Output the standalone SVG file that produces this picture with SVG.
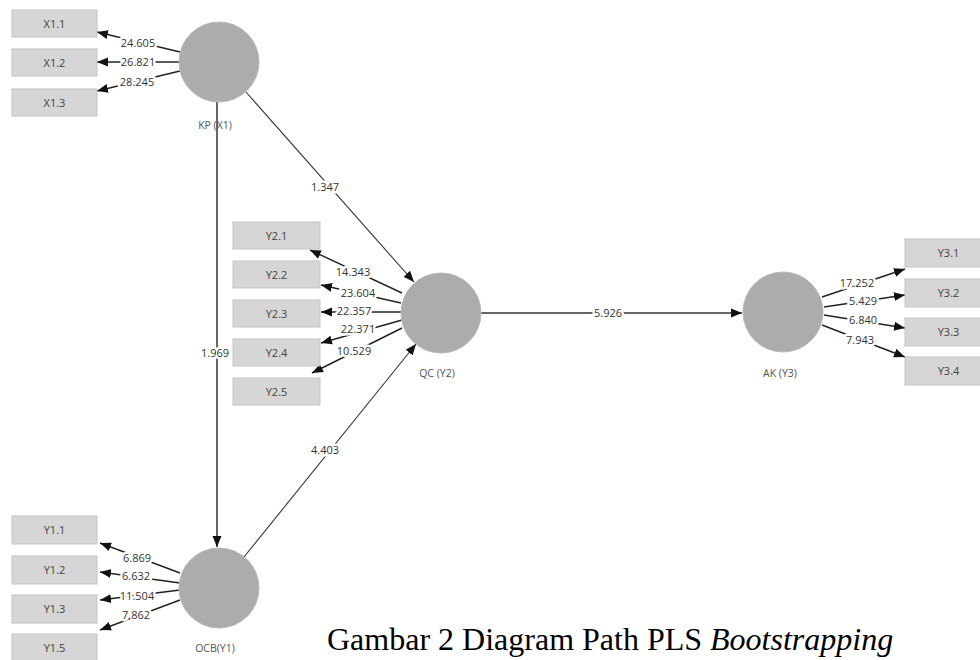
<svg xmlns="http://www.w3.org/2000/svg" width="980" height="660" viewBox="0 0 980 660">
<defs>
<marker id="ah" markerUnits="userSpaceOnUse" markerWidth="12" markerHeight="12" viewBox="0 0 12 12" refX="11" refY="6" orient="auto">
<path d="M0,1.5 L11,6 L0,10.5 Z" fill="#111"/>
</marker>
<style>
.box{fill:#d6d6d6;stroke:#c4c4c4;stroke-width:1}
.bt{font-family:"Open Sans","Noto Sans",sans-serif;font-size:11px;fill:#444;text-anchor:middle}
.lv{fill:#acacac;stroke:#b8b8b8;stroke-width:1}
.lt{font-family:"Open Sans","Noto Sans",sans-serif;font-size:10.5px;fill:#555;text-anchor:middle}
.ld{stroke:#222;stroke-width:1.4;fill:none;marker-end:url(#ah)}
.pt{stroke:#333;stroke-width:1.1;fill:none;marker-end:url(#ah)}
.pg{stroke:#666;stroke-width:2;fill:none;marker-end:url(#ah)}
.nl{font-family:"Open Sans","Noto Sans",sans-serif;font-size:11px;fill:#333;text-anchor:middle;stroke:#fff;stroke-width:5;paint-order:stroke;stroke-linejoin:round}
.cap{font-family:"Liberation Serif","Times New Roman",serif;font-size:32px;fill:#000}
</style>
</defs>
<rect width="980" height="660" fill="#fff"/>

<g id="connectors">
<line class="pt" x1="246" y1="92" x2="414" y2="282"/>
<line class="pg" x1="217" y1="102" x2="217" y2="547"/>
<line class="pt" x1="244" y1="557" x2="416" y2="344"/>
<line class="pg" x1="481" y1="313" x2="742" y2="313"/>
<line class="ld" x1="180" y1="52" x2="97" y2="32"/>
<line class="ld" x1="180" y1="62" x2="97" y2="62"/>
<line class="ld" x1="180" y1="71" x2="97" y2="91"/>
<line class="ld" x1="402" y1="293" x2="310" y2="250"/>
<line class="ld" x1="401" y1="303" x2="321" y2="285"/>
<line class="ld" x1="401" y1="312" x2="321" y2="312"/>
<line class="ld" x1="402" y1="320" x2="321" y2="343"/>
<line class="ld" x1="402" y1="328" x2="312" y2="373"/>
<line class="ld" x1="180" y1="573" x2="100" y2="543"/>
<line class="ld" x1="180" y1="583" x2="100" y2="572"/>
<line class="ld" x1="180" y1="590" x2="100" y2="600"/>
<line class="ld" x1="180" y1="600" x2="100" y2="630"/>
<line class="ld" x1="822" y1="297" x2="905" y2="269"/>
<line class="ld" x1="824" y1="307" x2="905" y2="295"/>
<line class="ld" x1="824" y1="315" x2="905" y2="328"/>
<line class="ld" x1="822" y1="325" x2="905" y2="357"/>
<text class="nl" x="325" y="191">1.347</text>
<text class="nl" x="215" y="357">1.969</text>
<text class="nl" x="325" y="454">4.403</text>
<text class="nl" x="608" y="317">5.926</text>
<text class="nl" x="138" y="47">24.605</text>
<text class="nl" x="138" y="66">26.821</text>
<text class="nl" x="137" y="86">28.245</text>
<text class="nl" x="353" y="276">14.343</text>
<text class="nl" x="358" y="297">23.604</text>
<text class="nl" x="354" y="315">22.357</text>
<text class="nl" x="358" y="333">22.371</text>
<text class="nl" x="354" y="355">10.529</text>
<text class="nl" x="137" y="562">6.869</text>
<text class="nl" x="136" y="580">6.632</text>
<text class="nl" x="137" y="600">11.504</text>
<text class="nl" x="136" y="619">7.862</text>
<text class="nl" x="857" y="287">17.252</text>
<text class="nl" x="863" y="305">5.429</text>
<text class="nl" x="863" y="324">6.840</text>
<text class="nl" x="860" y="344">7.943</text>
</g>

<g id="KP"><circle class="lv" cx="219" cy="62" r="40"/><text class="lt" x="215" y="129">KP (X1)</text></g>
<g id="OCB"><circle class="lv" cx="219" cy="588" r="40"/><text class="lt" x="215" y="652">OCB(Y1)</text></g>
<g id="QC"><circle class="lv" cx="441" cy="313" r="40"/><text class="lt" x="437" y="377">QC (Y2)</text></g>
<g id="AK"><circle class="lv" cx="783" cy="312" r="40"/><text class="lt" x="780" y="377">AK (Y3)</text></g>

<g id="X1.1"><rect class="box" x="12" y="10" width="85" height="27"/><text class="bt" x="54.5" y="27.5">X1.1</text></g>
<g id="X1.2"><rect class="box" x="12" y="49" width="85" height="27"/><text class="bt" x="54.5" y="66.5">X1.2</text></g>
<g id="X1.3"><rect class="box" x="12" y="89" width="85" height="27"/><text class="bt" x="54.5" y="106.5">X1.3</text></g>

<g id="Y2.1"><rect class="box" x="233" y="222" width="87" height="27"/><text class="bt" x="276.5" y="239.5">Y2.1</text></g>
<g id="Y2.2"><rect class="box" x="233" y="261" width="87" height="27"/><text class="bt" x="276.5" y="278.5">Y2.2</text></g>
<g id="Y2.3"><rect class="box" x="233" y="300" width="87" height="27"/><text class="bt" x="276.5" y="317.5">Y2.3</text></g>
<g id="Y2.4"><rect class="box" x="233" y="339" width="87" height="27"/><text class="bt" x="276.5" y="356.5">Y2.4</text></g>
<g id="Y2.5"><rect class="box" x="233" y="378" width="87" height="27"/><text class="bt" x="276.5" y="395.5">Y2.5</text></g>

<g id="Y1.1"><rect class="box" x="12" y="516" width="85" height="28"/><text class="bt" x="54.5" y="534">Y1.1</text></g>
<g id="Y1.2"><rect class="box" x="12" y="556" width="85" height="28"/><text class="bt" x="54.5" y="574">Y1.2</text></g>
<g id="Y1.3"><rect class="box" x="12" y="595" width="85" height="28"/><text class="bt" x="54.5" y="613">Y1.3</text></g>
<g id="Y1.5"><rect class="box" x="12" y="634" width="85" height="28"/><text class="bt" x="54.5" y="652">Y1.5</text></g>

<g id="Y3.1"><rect class="box" x="905" y="239" width="87" height="28"/><text class="bt" x="948.5" y="257">Y3.1</text></g>
<g id="Y3.2"><rect class="box" x="905" y="279" width="87" height="28"/><text class="bt" x="948.5" y="297">Y3.2</text></g>
<g id="Y3.3"><rect class="box" x="905" y="318" width="87" height="28"/><text class="bt" x="948.5" y="336">Y3.3</text></g>
<g id="Y3.4"><rect class="box" x="905" y="357" width="87" height="28"/><text class="bt" x="948.5" y="375">Y3.4</text></g>

<text class="cap" x="327" y="650">Gambar 2 Diagram Path PLS <tspan font-style="italic">Bootstrapping</tspan></text>
</svg>
